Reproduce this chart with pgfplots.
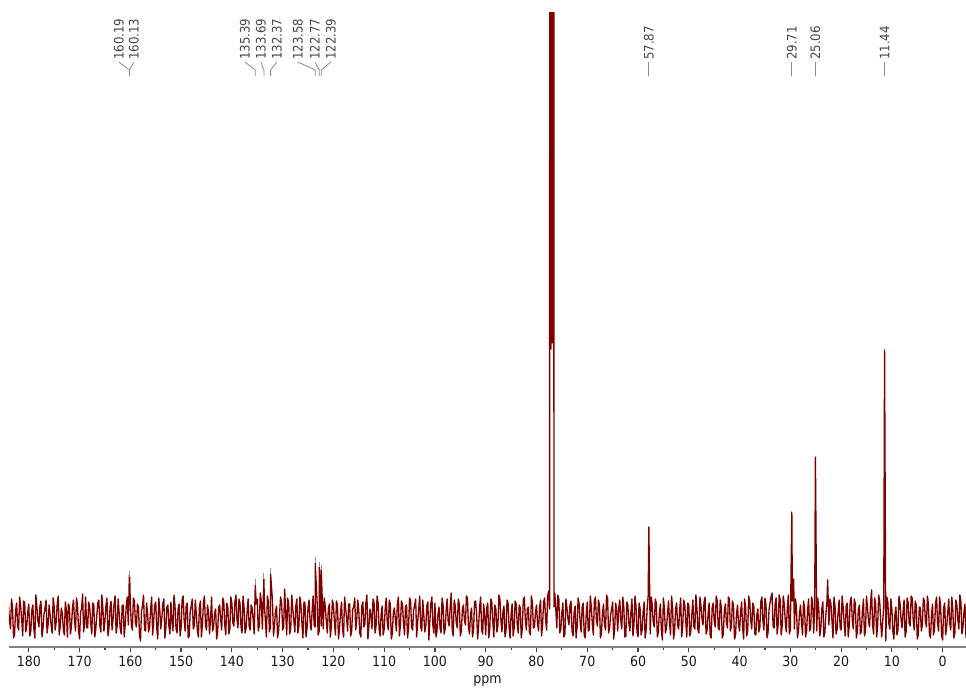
\documentclass[border=0pt]{standalone}
\usepackage{fontspec}
\setmainfont{DejaVu Sans Condensed}
\usepackage{pgfplots}
\pgfplotsset{compat=1.18}

\definecolor{specred}{RGB}{128,0,0}
\definecolor{axisgray}{RGB}{128,128,128}
\definecolor{tickgray}{RGB}{70,70,70}
\definecolor{lblgray}{RGB}{70,70,70}
\definecolor{linkgray}{RGB}{140,140,140}
\definecolor{capgray}{RGB}{150,150,150}

\newcommand\lblfont{\fontsize{9.8pt}{11pt}\selectfont}
\newcommand\tickfont{\fontsize{10.5pt}{12pt}\selectfont}

% peak label: text rotated upright, link line from label to the peak
\newcommand\peaklabel[3]{%
  \node[rotate=90, anchor=west, inner sep=0pt, font=\lblfont, text=lblgray]
    at (axis cs:#1,557) {#3};
  \draw[linkgray, line width=0.6pt]
    (axis cs:#1,555) -- (axis cs:#2,547) -- (axis cs:#2,541);
}

\begin{document}
\begin{tikzpicture}
\begin{axis}[
  scale only axis,
  width=717.75pt, height=475.5pt,
  at={(6.75pt,30.75pt)}, anchor=south west,
  x dir=reverse,
  xmin=-4.6, xmax=183.9,
  ymin=-30, ymax=604,
  axis x line=bottom, axis y line=none,
  axis line style={-, draw=axisgray, line width=1.5pt},
  xtick={0,10,...,180},
  minor xtick={5,15,...,175},
  tick align=outside,
  major tick length=3.5pt, minor tick length=2pt,
  tick style={draw=tickgray, line width=0.9pt},
  /pgf/number format/assume math mode=true,
  xticklabel style={font=\tickfont, text=black!90},
  xlabel={ppm},
  xlabel style={font=\tickfont, text=black!90},
  clip=true,
]

% 13C spectrum (intensity in arbitrary units, baseline at 0)
\addplot[specred, line width=1.0pt, line join=round] coordinates {
(184.0,11)(183.8,-3)(183.6,-12)(183.4,18)(183.2,9)(183.0,-21)(182.8,-17)(182.6,6)(182.4,14)(182.2,-9)(182.0,-13)(181.8,20)(181.6,11)(181.4,-2)(181.2,-19)(181.0,16)(180.8,14)(180.6,-15)(180.4,-9)(180.2,5)
(180.0,13)(179.8,-19)(179.6,-14)(179.4,7)(179.2,12)(179.0,-12)(178.8,-21)(178.6,22)(178.4,10)(178.2,-4)(178.0,-10)(177.8,11)(177.6,16)(177.4,-20)(177.2,-11)(177.0,3)(176.8,9)(176.6,17)(176.4,-16)(176.2,-8)
(176.0,12)(175.8,2)(175.6,-8)(175.4,-16)(175.2,19)(175.0,10)(174.8,-13)(174.6,-5)(174.4,13)(174.2,21)(174.0,-18)(173.8,-9)(173.6,9)(173.4,4)(173.2,-12)(173.0,-18)(172.8,15)(172.6,7)(172.4,-20)(172.2,13)
(172.0,10)(171.8,-17)(171.6,-10)(171.4,9)(171.2,17)(171.0,-3)(170.8,-14)(170.6,19)(170.4,11)(170.2,-13)(170.0,-22)(169.8,5)(169.6,8)(169.4,23)(169.2,-15)(169.0,-6)(168.8,20)(168.6,-10)(168.4,-11)(168.2,15)
(168.0,10)(167.8,-6)(167.6,-17)(167.4,14)(167.2,13)(167.0,-20)(166.8,-12)(166.6,2)(166.4,14)(166.2,17)(166.0,-9)(165.8,-15)(165.6,22)(165.4,8)(165.2,-14)(165.0,-4)(164.8,11)(164.6,19)(164.4,-19)(164.2,-11)
(164.0,9)(163.8,16)(163.6,-13)(163.4,-2)(163.2,13)(163.0,21)(162.8,-16)(162.6,-9)(162.4,18)(162.2,4)(162.0,-11)(161.8,-17)(161.6,12)(161.4,12)(161.2,-20)(161.0,-7)(160.8,12)(160.6,20)(160.4,-8)
(160.19,42)(160.16,24)(160.13,40)
(160.0,14)(159.8,-8)(159.6,-13)(159.4,19)(159.2,16)(159.0,-5)(158.8,-10)(158.6,13)(158.4,10)(158.2,-18)(158.0,-24)(157.8,6)(157.6,11)(157.4,22)(157.2,-13)(157.0,-14)(156.8,14)(156.6,3)(156.4,-15)(156.2,-10)
(156.0,8)(155.8,20)(155.6,-18)(155.4,-4)(155.2,12)(155.0,15)(154.8,-11)(154.6,-22)(154.4,19)(154.2,7)(154.0,-12)(153.8,-1)(153.6,13)(153.4,18)(153.2,-21)(153.0,-11)(152.8,10)(152.6,12)(152.4,-9)(152.2,-17)
(152.0,15)(151.8,-5)(151.6,-14)(151.4,22)(151.2,11)(151.0,-12)(150.8,-16)(150.6,8)(150.4,13)(150.2,-19)(150.0,-11)(149.8,17)(149.6,21)(149.4,-3)(149.2,-14)(149.0,11)(148.8,14)(148.6,-21)(148.4,-19)(148.2,6)
(148.0,11)(147.8,18)(147.6,-12)(147.4,-9)(147.2,17)(147.0,3)(146.8,-13)(146.6,-20)(146.4,9)(146.2,16)(146.0,-20)(145.8,-7)(145.6,14)(145.4,21)(145.2,-8)(145.0,-13)(144.8,12)(144.6,5)(144.4,-17)(144.2,-2)
(144.0,20)(143.8,-14)(143.6,-10)(143.4,4)(143.2,8)(143.0,-22)(142.8,-15)(142.6,10)(142.4,12)(142.2,-3)(142.0,-13)(141.8,19)(141.6,16)(141.4,-8)(141.2,-18)(141.0,14)(140.8,10)(140.6,-17)(140.4,-12)(140.2,20)
(140.0,14)(139.8,-6)(139.6,-9)(139.4,15)(139.2,22)(139.0,-2)(138.8,-11)(138.6,18)(138.4,14)(138.2,-10)(138.0,-16)(137.8,21)(137.6,10)(137.4,-16)(137.2,-11)(137.0,5)(136.8,18)(136.6,-9)(136.4,-13)(136.2,12)
(136.0,9)(135.8,-3)(135.6,-17)(135.39,32)(135.2,13)(135.0,18)(134.8,-14)(134.6,-9)(134.4,24)(134.2,16)(134.0,-12)(133.69,38)(133.6,13)(133.4,-4)(133.2,-20)(133.0,21)(132.8,15)(132.6,-15)(132.4,-10)(132.37,43)
(132.0,16)(131.8,-19)(131.6,-8)(131.4,6)(131.2,11)(131.0,-21)(130.8,-14)(130.6,3)(130.4,20)(130.2,14)(130.0,-13)(129.8,-10)(129.6,28)(129.4,4)(129.2,-18)(129.0,19)(128.8,13)(128.6,-17)(128.4,-11)(128.2,22)
(128.0,8)(127.8,-3)(127.6,-15)(127.4,11)(127.2,18)(127.0,-16)(126.8,-9)(126.6,20)(126.4,12)(126.2,-6)(126.0,-21)(125.8,15)(125.6,14)(125.4,-20)(125.2,-12)(125.0,9)(124.8,17)(124.6,-4)(124.4,-13)(124.2,5)
(124.0,21)(123.8,-8)(123.6,-10)(123.58,54)(123.2,14)(123.0,-18)(122.8,-14)(122.77,50)(122.4,-9)(122.39,47)(122.0,-12)(121.8,19)(121.6,10)(121.4,-4)(121.2,-16)(121.0,8)(120.8,13)(120.6,-20)(120.4,-9)(120.2,17)
(120.0,12)(119.8,-5)(119.6,-18)(119.4,16)(119.2,12)(119.0,-22)(118.8,-11)(118.6,4)(118.4,15)(118.2,-12)(118.0,-20)(117.8,20)(117.6,9)(117.4,-1)(117.2,-14)(117.0,13)(116.8,13)(116.6,-19)(116.4,-14)(116.2,8)
(116.0,10)(115.8,19)(115.6,-13)(115.4,-3)(115.2,17)(115.0,6)(114.8,-16)(114.6,-20)(114.4,11)(114.2,15)(114.0,-10)(113.8,-7)(113.6,14)(113.4,22)(113.2,-22)(113.0,-9)(112.8,8)(112.6,2)(112.4,-12)(112.2,18)
(112.0,15)(111.8,-16)(111.6,-9)(111.4,21)(111.2,14)(111.0,-12)(110.8,-19)(110.6,3)(110.4,11)(110.2,-18)(110.0,-12)(109.8,8)(109.6,19)(109.4,-5)(109.2,-13)(109.0,17)(108.8,13)(108.6,-22)(108.4,-17)(108.2,4)
(108.0,9)(107.8,-2)(107.6,-14)(107.4,13)(107.2,20)(107.0,-19)(106.8,-8)(106.6,16)(106.4,13)(106.2,-6)(106.0,-18)(105.8,11)(105.6,12)(105.4,-21)(105.2,-11)(105.0,19)(104.8,16)(104.6,-10)(104.4,-13)(104.2,7)
(104.0,12)(103.8,18)(103.6,-20)(103.4,-5)(103.2,8)(103.0,21)(102.8,-10)(102.6,-14)(102.4,17)(102.2,2)(102.0,-15)(101.8,-9)(101.6,11)(101.4,15)(101.2,-23)(101.0,-4)(100.8,14)(100.6,20)(100.4,-9)(100.2,-16)
(100.0,14)(99.8,-20)(99.6,-14)(99.4,3)(99.2,10)(99.0,-11)(98.8,-16)(98.6,19)(98.4,12)(98.2,-17)(98.0,-12)(97.8,6)(97.6,18)(97.4,-4)(97.2,-9)(97.0,10)(96.8,24)(96.6,-13)(96.4,-19)(96.2,17)
(96.0,11)(95.8,-6)(95.6,-11)(95.4,18)(95.2,13)(95.0,-19)(94.8,-14)(94.6,7)(94.4,12)(94.2,-3)(94.0,-8)(93.8,21)(93.6,19)(93.4,-10)(93.2,-17)(93.0,2)(92.8,9)(92.6,-20)(92.4,-13)(92.2,15)
(92.0,16)(91.8,4)(91.6,-22)(91.4,-9)(91.2,10)(91.0,20)(90.8,-13)(90.6,-17)(90.4,13)(90.2,1)(90.0,-18)(89.8,9)(89.6,14)(89.4,-21)(89.2,-12)(89.0,18)(88.8,15)(88.6,-5)(88.4,-20)(88.2,12)
(88.0,8)(87.8,-15)(87.6,-9)(87.4,22)(87.2,18)(87.0,-4)(86.8,-15)(86.6,6)(86.4,11)(86.2,-20)(86.0,-14)(85.8,17)(85.6,14)(85.4,-10)(85.2,-21)(85.0,3)(84.8,13)(84.6,-19)(84.4,-11)(84.2,16)
(84.0,13)(83.8,-7)(83.6,-16)(83.4,12)(83.2,9)(83.0,-21)(82.8,-12)(82.6,17)(82.4,20)(82.2,-2)(82.0,-13)(81.8,8)(81.6,10)(81.4,-15)(81.2,-18)(81.0,21)(80.8,14)(80.6,-11)(80.4,-10)(80.2,4)
(80.0,12)(79.8,-6)(79.6,-14)(79.4,9)(79.2,17)(79.0,-19)(78.8,-8)(78.6,15)(78.4,19)(78.2,-3)(78.0,-13)(77.8,21)(77.6,26)
(77.42,8)(77.32,3000)(77.16,268)(77.00,3000)(76.84,274)(76.68,3000)(76.56,10)(76.4,24)(76.2,8)
(76.0,-11)(75.8,22)(75.6,18)(75.4,-16)(75.2,-12)(75.0,5)(74.8,14)(74.6,-20)(74.4,-17)(74.2,18)(74.0,9)(73.8,-2)(73.6,-8)(73.4,12)(73.2,16)(73.0,-14)(72.8,-19)(72.6,4)(72.4,11)(72.2,-21)
(72.0,-10)(71.8,19)(71.6,13)(71.4,-5)(71.2,-15)(71.0,10)(70.8,14)(70.6,-18)(70.4,-21)(70.2,3)(70.0,15)(69.8,-14)(69.6,-13)(69.4,21)(69.2,10)(69.0,-7)(68.8,-18)(68.6,16)(68.4,20)(68.2,-3)
(68.0,-9)(67.8,17)(67.6,12)(67.4,-21)(67.2,-16)(67.0,4)(66.8,13)(66.6,-8)(66.4,-13)(66.2,22)(66.0,19)(65.8,-16)(65.6,-11)(65.4,2)(65.2,8)(65.0,15)(64.8,-22)(64.6,-12)(64.4,14)(64.2,6)
(64.0,-14)(63.8,9)(63.6,17)(63.4,-3)(63.2,-12)(63.0,20)(62.8,10)(62.6,-20)(62.4,-19)(62.2,15)(62.0,12)(61.8,-7)(61.6,-14)(61.4,5)(61.2,18)(61.0,-19)(60.8,-8)(60.6,21)(60.4,11)(60.2,-15)
(60.0,-20)(59.8,14)(59.6,9)(59.4,-18)(59.2,-13)(59.0,5)(58.8,15)(58.6,-21)(58.4,-13)(58.2,9)(58.0,21)(57.87,90)(57.6,-17)(57.4,20)(57.2,12)(57.0,-6)(56.8,-10)(56.6,18)(56.4,14)(56.2,-20)
(56.0,-15)(55.8,4)(55.6,13)(55.4,-13)(55.2,-23)(55.0,19)(54.8,8)(54.6,-16)(54.4,-11)(54.2,2)(54.0,16)(53.8,-5)(53.6,-18)(53.4,21)(53.2,10)(53.0,-22)(52.8,-14)(52.6,8)(52.4,14)(52.2,-9)
(52.0,-12)(51.8,7)(51.6,19)(51.4,-20)(51.2,-9)(51.0,17)(50.8,13)(50.6,-4)(50.4,-20)(50.2,14)(50.0,12)(49.8,-19)(49.6,-14)(49.4,3)(49.2,17)(49.0,-10)(48.8,-12)(48.6,22)(48.4,9)(48.2,-13)
(48.0,-16)(47.8,20)(47.6,11)(47.4,-2)(47.2,-8)(47.0,15)(46.8,20)(46.6,-17)(46.4,-13)(46.2,3)(46.0,14)(45.8,-18)(45.6,-21)(45.4,9)(45.2,14)(45.0,-4)(44.8,-10)(44.6,21)(44.4,16)(44.2,-11)
(44.0,-13)(43.8,17)(43.6,10)(43.4,-21)(43.2,-17)(43.0,6)(42.8,13)(42.6,-5)(42.4,-11)(42.2,20)(42.0,18)(41.8,-14)(41.6,-9)(41.4,16)(41.2,12)(41.0,-22)(40.8,-19)(40.6,3)(40.4,12)(40.2,-8)
(40.0,-14)(39.8,5)(39.6,15)(39.4,-11)(39.2,-22)(39.0,18)(38.8,9)(38.6,-19)(38.4,-14)(38.2,21)(38.0,16)(37.8,-3)(37.6,-12)(37.4,14)(37.2,11)(37.0,-17)(36.8,-18)(36.6,2)(36.4,8)(36.2,-15)
(36.0,-10)(35.8,16)(35.6,20)(35.4,-4)(35.2,-13)(35.0,19)(34.8,13)(34.6,-21)(34.4,-16)(34.2,7)(34.0,14)(33.8,20)(33.6,24)(33.4,-9)(33.2,-11)(33.0,13)(32.8,19)(32.6,-17)(32.4,-8)(32.2,22)
(32.0,17)(31.8,-18)(31.6,-9)(31.4,21)(31.2,13)(31.0,-4)(30.8,-15)(30.6,9)(30.4,22)(30.2,-17)(30.0,-13)(29.71,105)(29.6,16)(29.35,38)(29.2,-12)(29.0,18)(28.8,10)(28.6,-21)(28.4,-14)(28.2,3)
(28.0,12)(27.8,-5)(27.6,-18)(27.4,16)(27.2,9)(27.0,-20)(26.8,-14)(26.6,7)(26.4,18)(26.2,-14)(26.0,-11)(25.8,20)(25.6,14)(25.4,-16)(25.2,10)(25.06,160)(24.8,-14)(24.6,19)(24.4,8)(24.2,-19)
(24.0,-11)(23.8,8)(23.6,15)(23.4,-20)(23.2,-16)(23.0,3)(22.8,14)(22.65,37)(22.4,-8)(22.2,18)(22.0,13)(21.8,-4)(21.6,-21)(21.4,20)(21.2,11)(21.0,-17)(20.8,-13)(20.6,4)(20.4,17)(20.2,-10)
(20.0,-13)(19.8,21)(19.6,10)(19.4,-6)(19.2,-19)(19.0,11)(18.8,14)(18.6,-20)(18.4,-9)(18.2,16)(18.0,20)(17.8,-3)(17.6,-12)(17.4,18)(17.2,13)(17.0,-21)(16.8,-15)(16.6,8)(16.4,12)(16.2,-17)
(16.0,-14)(15.8,6)(15.6,18)(15.4,-19)(15.2,-14)(15.0,21)(14.8,9)(14.6,-4)(14.4,-10)(14.2,14)(14.0,27)(13.8,-8)(13.6,-17)(13.4,19)(13.2,13)(13.0,-20)(12.8,-8)(12.6,22)(12.4,16)(12.2,-5)
(12.0,-20)(11.8,-4)(11.6,11)(11.44,267)(11.2,-24)(11.0,20)(10.8,15)(10.6,-7)(10.4,-12)(10.2,18)(10.0,8)(9.8,-15)(9.6,-22)(9.4,3)(9.2,10)(9.0,-18)(8.8,-13)(8.6,21)(8.4,14)(8.2,-2)
(8.0,-11)(7.8,5)(7.6,17)(7.4,-20)(7.2,-15)(7.0,19)(6.8,14)(6.6,-6)(6.4,-9)(6.2,21)(6.0,19)(5.8,-3)(5.6,-13)(5.4,16)(5.2,12)(5.0,-22)(4.8,-18)(4.6,10)(4.4,9)(4.2,-14)
(4.0,-8)(3.8,19)(3.6,16)(3.4,-4)(3.2,-10)(3.0,21)(2.8,13)(2.6,-17)(2.4,-21)(2.2,2)(2.0,13)(1.8,-18)(1.6,-12)(1.4,14)(1.2,20)(1.0,-6)(0.8,-14)(0.6,20)(0.4,11)(0.2,-19)
(0.0,-23)(-0.2,9)(-0.4,14)(-0.6,-18)(-0.8,-9)(-1.0,4)(-1.2,18)(-1.4,-7)(-1.6,-13)(-1.8,20)(-2.0,8)(-2.2,-21)(-2.4,-16)(-2.6,17)(-2.8,12)(-3.0,-3)(-3.2,-12)(-3.4,22)(-3.6,15)(-3.8,-17)
(-4.0,-10)(-4.2,5)(-4.4,13)(-4.6,-21)(-4.8,-14)
};

% lighter tips on the picked aromatic peaks
\addplot[capgray, line width=0.8pt, unbounded coords=jump] coordinates {
(160.19,42)(160.19,46) (160.18,nan)
(160.13,40)(160.13,44) (160.00,nan)
(135.39,32)(135.39,38) (135.00,nan)
(133.69,38)(133.69,44) (133.00,nan)
(132.37,43)(132.37,49) (132.00,nan)
(123.58,54)(123.58,60) (123.00,nan)
(122.77,50)(122.77,55) (122.50,nan)
(122.39,47)(122.39,52)
};

% peak labels
\peaklabel{162.27}{160.16}{160.19}
\peaklabel{159.31}{160.16}{160.13}
\peaklabel{137.45}{135.39}{135.39}
\peaklabel{134.29}{133.69}{133.69}
\peaklabel{131.14}{132.37}{132.37}
\peaklabel{127.01}{123.58}{123.58}
\peaklabel{123.66}{122.77}{122.77}
\peaklabel{120.50}{122.39}{122.39}
\peaklabel{57.87}{57.87}{57.87}
\peaklabel{29.71}{29.71}{29.71}
\peaklabel{25.06}{25.06}{25.06}
\peaklabel{11.44}{11.44}{11.44}

\end{axis}
\pgfresetboundingbox
\useasboundingbox (0,0) rectangle (724.5pt,516pt);
\end{tikzpicture}
\end{document}
